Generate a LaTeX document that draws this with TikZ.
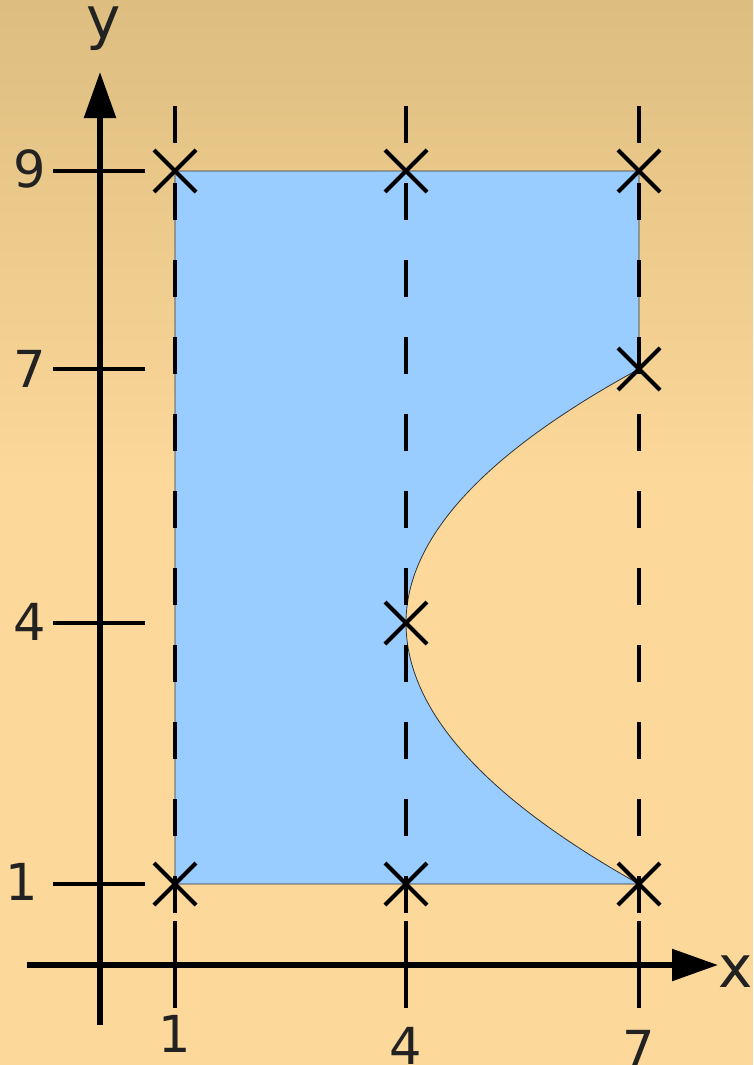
\documentclass[tikz,border=0pt]{standalone}
\usepackage{fontspec}
\setmainfont{DejaVu Sans}
\usetikzlibrary{arrows.meta,shapes.misc}
\definecolor{bgtop}{HTML}{DDBE80}
\definecolor{bgbot}{HTML}{FCD89A}
\definecolor{regcol}{HTML}{99CCFF}
\definecolor{txtcol}{HTML}{222222}

\tikzset{
  axis/.style={line width=5.5pt,-{Triangle[length=46pt,width=31pt]}},
  tick/.style={line width=4.3pt},
  guide/.style={line width=4pt,dash pattern=on 37pt off 40pt},
  xcross/.style={cross out,draw,line width=4pt,minimum size=38pt,inner sep=0pt},
  numlbl/.style={txtcol,inner sep=0pt,anchor=base,font=\fontsize{51}{51}\selectfont},
  axlbl/.style={txtcol,inner sep=0pt,anchor=base,font=\fontsize{58}{58}\selectfont}
}

\begin{document}
\begin{tikzpicture}[x=1pt,y=-1pt,line join=round]
  \useasboundingbox (0,0) rectangle (753,1065);

  % background
  \shade[top color=bgtop,bottom color=bgbot] (0,0) rectangle (753,480);
  \fill[bgbot] (0,479) rectangle (753,1065);

  % grid points
  \coordinate (p19) at (175,171);
  \coordinate (p49) at (406,171);
  \coordinate (p79) at (639,171);
  \coordinate (p77) at (639,369);
  \coordinate (p44) at (406,623);
  \coordinate (p11) at (175,884);
  \coordinate (p41) at (406,884);
  \coordinate (p71) at (639,884);

  % shaded region
  \filldraw[fill=regcol,draw=black!80,line width=0.8pt]
    (p19) -- (p79) -- (p77)
    .. controls (483.7,453.7) and (406,538.3) .. (p44)
    .. controls (406,710) and (483.7,797) .. (p71)
    -- (p11) -- cycle;

  % vertical guides and x ticks
  \foreach \gx/\lbl/\ly in {175/1/1052,406/4/1064,639/7/1067} {
    \draw[guide] (\gx,106) -- (\gx,913);
    \draw[tick] (\gx,921) -- (\gx,1008);
    \node[numlbl] (xl\lbl) at (\gx,\ly) {\lbl};
  }

  % y ticks
  \foreach \gy/\lbl/\lx/\ly in {171/9/30/187,369/7/30/387,623/4/30/640,884/1/22/900} {
    \draw[tick] (53,\gy) -- (145,\gy);
    \node[numlbl] (yl\lbl) at (\lx,\ly) {\lbl};
  }

  % axes
  \coordinate (xstart) at (27,965);
  \coordinate (xend) at (718,965);
  \coordinate (ystart) at (100,1025);
  \coordinate (yend) at (100,72);
  \draw[axis] (xstart) -- (xend);
  \draw[axis] (ystart) -- (yend);
  \node[axlbl] (xname) at (736,987) {x};
  \node[axlbl] (yname) at (104,39) {y};

  % crosses
  \foreach \p in {19,49,79,77,44,11,41,71}
    \node[xcross] (c\p) at (p\p) {};

\end{tikzpicture}
\end{document}
